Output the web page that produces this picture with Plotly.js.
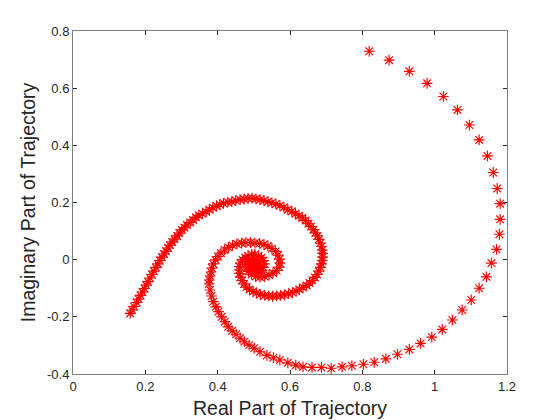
<!DOCTYPE html>
<html>
<head>
<meta charset="utf-8">
<script src="https://cdn.plot.ly/plotly-3.0.1.min.js"></script>
<style>
html,body{margin:0;padding:0;background:#fff;}
#chart{width:560px;height:420px;}
</style>
</head>
<body>
<div id="chart"></div>
<script>
// Trajectory 1: starts at 0.82+0.73i, large steps, spirals in
const outerRe = [0.819,0.874,0.930,0.979,1.024,1.063,1.096,1.123,1.146,1.162,1.173,1.181,1.181,1.179,1.171,1.157,1.143,1.123,1.101,1.076,1.049,1.021,0.992,0.961,0.930,0.897,0.865,0.833,0.803,0.771,0.744,0.714,0.687,0.661,0.636,0.616,0.594,0.572,0.554,0.536,0.517,0.501,0.487,0.474,0.462,0.451,0.440,0.429,0.420,0.411,0.402,0.395,0.388,0.383,0.379,0.376,0.377,0.379,0.382,0.384,0.388,0.394,0.401,0.409,0.419,0.430,0.441,0.453,0.466,0.478,0.491,0.503,0.516,0.528,0.539,0.550,0.560,0.567,0.571,0.572,0.570,0.563,0.553,0.542,0.530,0.517,0.505,0.494,0.485,0.481,0.481,0.485,0.494,0.503,0.511,0.514,0.510,0.502,0.495,0.495,0.501,0.505,0.501];
const outerIm = [0.729,0.698,0.659,0.617,0.571,0.524,0.471,0.419,0.363,0.305,0.249,0.196,0.141,0.089,0.036,-0.012,-0.060,-0.100,-0.141,-0.176,-0.211,-0.244,-0.271,-0.293,-0.314,-0.331,-0.347,-0.359,-0.366,-0.371,-0.375,-0.380,-0.377,-0.377,-0.375,-0.369,-0.361,-0.351,-0.343,-0.335,-0.322,-0.310,-0.299,-0.287,-0.275,-0.261,-0.249,-0.235,-0.217,-0.200,-0.182,-0.165,-0.147,-0.127,-0.106,-0.085,-0.071,-0.057,-0.043,-0.029,-0.015,-0.001,0.011,0.023,0.034,0.043,0.050,0.055,0.058,0.060,0.060,0.058,0.057,0.053,0.048,0.039,0.029,0.016,0.002,-0.012,-0.026,-0.038,-0.047,-0.054,-0.059,-0.061,-0.059,-0.052,-0.041,-0.029,-0.017,-0.006,0.001,0.001,-0.006,-0.019,-0.029,-0.033,-0.027,-0.019,-0.015,-0.022,-0.026];

// Trajectory 2: starts at 0.16-0.19i, small steps, spirals in
const innerRe = [0.158,0.163,0.169,0.176,0.181,0.187,0.192,0.198,0.202,0.207,0.213,0.218,0.224,0.229,0.235,0.240,0.246,0.252,0.257,0.263,0.268,0.274,0.281,0.288,0.294,0.301,0.308,0.315,0.324,0.332,0.340,0.348,0.358,0.368,0.377,0.387,0.397,0.406,0.416,0.428,0.439,0.450,0.462,0.473,0.484,0.495,0.506,0.517,0.528,0.539,0.550,0.561,0.572,0.583,0.594,0.605,0.615,0.625,0.634,0.643,0.651,0.658,0.665,0.670,0.676,0.680,0.684,0.687,0.689,0.690,0.690,0.689,0.687,0.684,0.680,0.675,0.669,0.662,0.654,0.646,0.636,0.626,0.617,0.607,0.596,0.585,0.574,0.563,0.552,0.541,0.530,0.518,0.507,0.498,0.488,0.480,0.473,0.467,0.463,0.460,0.460,0.460,0.463,0.469,0.476,0.484,0.494,0.503,0.513,0.521,0.527,0.529,0.527,0.521,0.513,0.503,0.494,0.488,0.487,0.491,0.498,0.505,0.509,0.507,0.500,0.496,0.498,0.502];
const innerIm = [-0.188,-0.176,-0.164,-0.150,-0.138,-0.125,-0.113,-0.101,-0.089,-0.077,-0.064,-0.052,-0.040,-0.027,-0.015,-0.003,0.009,0.020,0.030,0.041,0.051,0.062,0.072,0.083,0.093,0.104,0.112,0.121,0.130,0.139,0.148,0.155,0.161,0.168,0.175,0.182,0.188,0.193,0.197,0.201,0.203,0.207,0.210,0.212,0.214,0.215,0.213,0.210,0.207,0.203,0.199,0.195,0.189,0.183,0.175,0.169,0.161,0.154,0.146,0.137,0.126,0.116,0.105,0.094,0.083,0.071,0.058,0.046,0.034,0.022,0.009,-0.003,-0.015,-0.027,-0.040,-0.052,-0.062,-0.073,-0.082,-0.090,-0.097,-0.104,-0.110,-0.115,-0.119,-0.123,-0.125,-0.127,-0.128,-0.127,-0.125,-0.122,-0.117,-0.111,-0.104,-0.096,-0.085,-0.073,-0.061,-0.048,-0.036,-0.024,-0.012,-0.001,0.007,0.014,0.018,0.018,0.014,0.007,-0.003,-0.015,-0.027,-0.038,-0.045,-0.047,-0.043,-0.035,-0.024,-0.014,-0.009,-0.012,-0.020,-0.029,-0.033,-0.027,-0.020,-0.021];

const xTickVals = [0, 0.2, 0.4, 0.6, 0.8, 1, 1.2];
const xTickText = ['0', '0.2', '0.4', '0.6', '0.8', '1', '1.2'];
const yTickVals = [-0.4, -0.2, 0, 0.2, 0.4, 0.6, 0.8];
const yTickText = ['-0.4', '-0.2', '0', '0.2', '0.4', '0.6', '0.8'];

const markerStyle = {
  symbol: 'asterisk-open',
  size: 9,
  color: '#ff0000',
  line: {color: '#ff0000', width: 1.15}
};

const traces = [
  {x: outerRe, y: outerIm, type: 'scatter', mode: 'markers', marker: markerStyle, hoverinfo: 'skip'},
  {x: innerRe, y: innerIm, type: 'scatter', mode: 'markers', marker: markerStyle, hoverinfo: 'skip'}
];

const axisCommon = {
  showgrid: false,
  zeroline: false,
  showline: true,
  linecolor: '#808080',
  linewidth: 1,
  mirror: 'allticks',
  ticks: 'inside',
  ticklen: 4,
  tickwidth: 1,
  tickcolor: '#262626',
  tickfont: {family: 'Liberation Sans, Arial, sans-serif', size: 13, color: '#262626'},
  tickmode: 'array'
};

const layout = {
  width: 560,
  height: 420,
  paper_bgcolor: '#ffffff',
  plot_bgcolor: '#ffffff',
  showlegend: false,
  margin: {l: 73, r: 53, t: 31, b: 46, pad: 0},
  xaxis: Object.assign({}, axisCommon, {
    range: [0, 1.2],
    tickvals: xTickVals,
    ticktext: xTickText,
    title: {text: 'Real Part of Trajectory', font: {family: 'Liberation Sans, Arial, sans-serif', size: 19.5, color: '#262626'}, standoff: 8}
  }),
  yaxis: Object.assign({}, axisCommon, {
    range: [-0.4, 0.8],
    tickvals: yTickVals,
    ticktext: yTickText,
    title: {text: 'Imaginary Part of Trajectory', font: {family: 'Liberation Sans, Arial, sans-serif', size: 19.5, color: '#262626'}, standoff: 6}
  })
};

Plotly.newPlot('chart', traces, layout, {displayModeBar: false, staticPlot: true});
</script>
</body>
</html>
